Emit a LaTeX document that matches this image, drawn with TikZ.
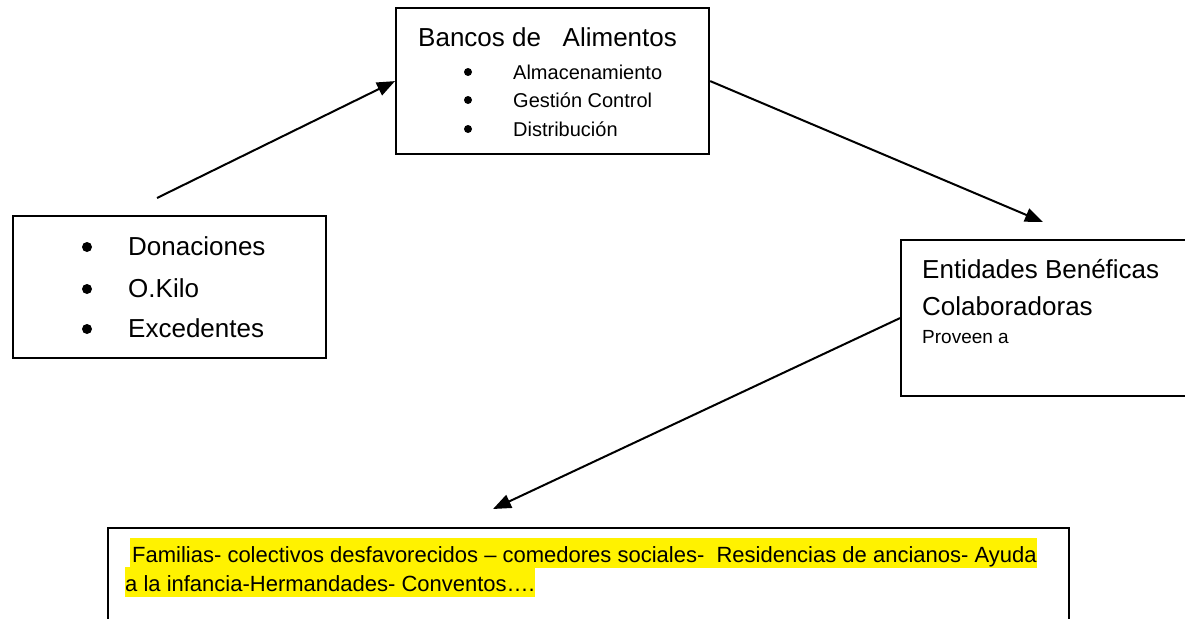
\documentclass[tikz,border=0pt]{standalone}
\usepackage{fontspec}
\setmainfont{Liberation Sans}
\usetikzlibrary{arrows.meta}
\tikzset{
  box/.style={draw, line width=2.2pt, inner sep=0pt, anchor=north west},
  link/.style={line width=2pt, -{Triangle[length=18pt,width=14pt]}},
  big/.style={font=\fontsize{26}{30}\selectfont, inner sep=0pt, anchor=base west},
  small/.style={font=\fontsize{20}{24}\selectfont, inner sep=0pt, anchor=base west},
  tiny/.style={font=\fontsize{19}{22}\selectfont, inner sep=0pt, anchor=base west},
  dot/.style={circle, fill, inner sep=0pt, minimum size=#1},
  hl/.style={font=\fontsize{22}{28}\selectfont, fill=yellow, inner sep=0pt,
    text height=24pt, text depth=6pt, anchor=base west},
}
\begin{document}
\begin{tikzpicture}[x=1pt,y=-1pt]
\clip (0,0) rectangle (1185,618);
% boxes
\node[box, minimum width=313pt, minimum height=146pt] (bancos) at (395,7) {};
\node[box, minimum width=313pt, minimum height=142pt] (fuentes) at (12,215) {};
\node[box, minimum width=320pt, minimum height=156pt] (entidades) at (900,239) {};
\node[box, minimum width=961pt, minimum height=130pt] (destino) at (107,527) {};
% top box
\node[big] (titulo) at (418,47) {Bancos de\ \ \ Alimentos};
\node[dot=8pt] (b1) at (468,72) {};
\node[dot=8pt] (b2) at (468,100) {};
\node[dot=8pt] (b3) at (468,129) {};
\node[small] (alm) at (513,79) {Almacenamiento};
\node[small] (ges) at (513,107) {Gestión Control};
\node[small] (dis) at (513,136) {Distribución};
% left box
\node[dot=10pt] (d1) at (87,247) {};
\node[dot=10pt] (d2) at (87,289) {};
\node[dot=10pt] (d3) at (87,329) {};
\node[big] (don) at (128,255) {Donaciones};
\node[big] (kilo) at (128,297) {O.Kilo};
\node[big] (exc) at (128,337) {Excedentes};
% right box
\node[big] (ent) at (922,278) {Entidades Benéficas};
\node[big] (col) at (922,315) {Colaboradoras};
\node[tiny] (prov) at (922,343) {Proveen a};
% bottom box
\node[hl] (linea1) at (130,562) {\hspace*{2pt}Familias- colectivos desfavorecidos – comedores sociales-\ \ Residencias de ancianos- Ayuda};
\node[hl] (linea2) at (125,591) {a la infancia-Hermandades- Conventos….};
% arrows
\coordinate (inicio) at (157,198);
\coordinate (punta1) at (1043,222);
\coordinate (punta2) at (493,509);
\draw[link] (inicio) -- (bancos.west);
\draw[link] (bancos.east) -- (punta1);
\draw[link] (entidades.west) -- (punta2);
\end{tikzpicture}
\end{document}
